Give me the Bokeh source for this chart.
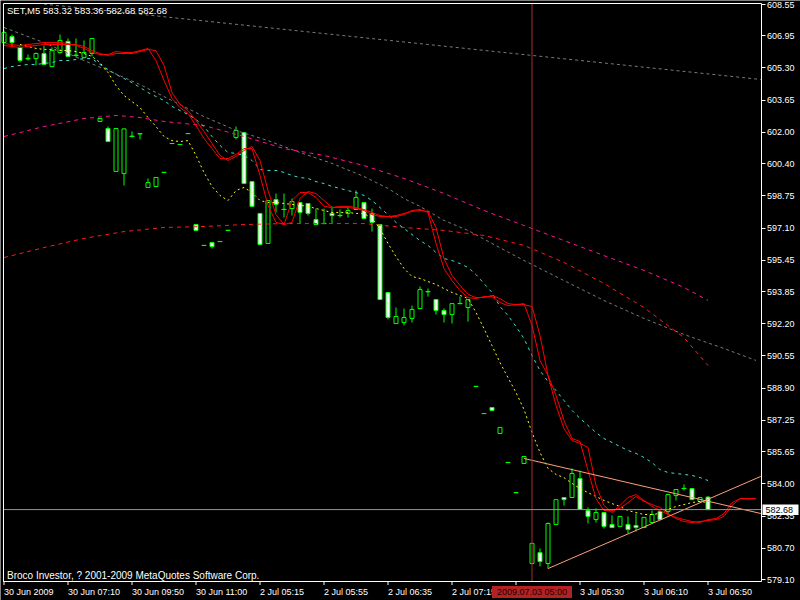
from bokeh.plotting import figure
from bokeh.models import (Range1d, FixedTicker, PrintfTickFormatter, Label, LinearAxis,
                          ColumnDataSource)
from bokeh.core.properties import value
from bokeh.embed import file_html
from bokeh.resources import INLINE

# SET index, 5-minute bars
symbol = "SET"
timeframe = "M5"

opens = [
    606.60, 606.91, 606.35, 605.77, 605.78, 606.04, 605.37, 606.09, 606.66, 605.94,
    605.84, 606.04, 602.56, 602.20, 600.00, 599.89, 601.79, 601.93, 599.18, 599.23,
    599.95, 601.43, 601.38, 601.94, 597.28, 596.21, 596.36, 596.41, 596.98, 601.74,
    601.99, 599.48, 597.85, 596.31, 598.56, 598.05, 598.10, 598.41, 598.36, 597.54,
    597.33, 597.85, 597.74, 597.85, 598.05, 598.41, 597.85, 597.28, 593.80, 592.21,
    592.26, 592.47, 592.98, 593.84, 593.44, 592.88, 592.67, 593.23, 593.03, 588.99,
    587.60, 587.91, 586.58, 585.09, 583.55, 585.04, 579.92, 580.48, 579.92, 581.92,
    583.30, 583.30, 584.27, 582.63, 582.17, 582.53, 581.92, 581.82, 581.92, 581.87,
    581.76, 582.02, 582.58, 582.58, 583.40, 583.76, 583.76, 583.10, 583.32]
highs = [
    607.22, 607.01, 606.40, 605.99, 606.09, 606.45, 606.35, 607.01, 606.81, 606.81,
    606.71, 606.81, 602.71, 602.30, 602.20, 602.20, 602.05, 601.94, 599.64, 599.69,
    599.95, 601.43, 601.38, 601.94, 597.28, 596.21, 596.36, 596.41, 596.98, 602.30,
    601.99, 599.48, 597.85, 598.51, 598.87, 598.87, 598.62, 598.41, 598.36, 598.10,
    598.10, 598.21, 598.05, 598.15, 599.02, 598.41, 598.10, 597.28, 593.80, 593.03,
    592.98, 593.13, 594.11, 594.00, 593.44, 592.98, 593.23, 593.59, 593.44, 588.99,
    587.60, 587.91, 586.89, 585.09, 583.55, 585.40, 580.95, 580.69, 582.02, 583.19,
    583.30, 584.79, 584.68, 582.79, 582.74, 582.53, 582.38, 582.33, 582.33, 582.48,
    582.28, 582.63, 582.58, 583.45, 583.71, 583.97, 583.76, 583.30, 583.36]
lows = [
    606.50, 606.35, 605.58, 605.68, 605.43, 605.46, 605.37, 606.04, 605.89, 605.84,
    605.78, 605.89, 602.56, 601.53, 600.00, 599.28, 601.74, 601.64, 599.18, 599.23,
    599.95, 601.43, 601.38, 601.94, 596.98, 596.21, 596.05, 596.41, 596.98, 601.64,
    599.38, 598.21, 596.26, 596.31, 597.90, 597.64, 597.74, 597.33, 597.74, 597.28,
    597.33, 597.33, 597.64, 597.64, 598.05, 597.59, 596.92, 593.44, 592.42, 592.21,
    592.11, 592.26, 592.98, 593.59, 592.67, 592.26, 592.21, 593.23, 592.31, 588.99,
    587.60, 587.76, 586.58, 585.09, 583.55, 585.04, 579.92, 579.77, 579.66, 581.92,
    582.89, 583.30, 582.69, 581.97, 582.02, 581.71, 581.76, 581.82, 581.46, 581.56,
    581.76, 582.02, 582.17, 582.38, 583.15, 583.66, 583.19, 583.10, 582.68]
closes = [
    607.12, 606.60, 605.68, 605.80, 606.04, 605.48, 606.19, 606.71, 605.89, 605.96,
    606.09, 606.81, 602.71, 601.53, 602.20, 602.18, 601.81, 601.94, 599.43, 599.69,
    599.95, 601.43, 601.38, 601.94, 596.98, 596.21, 596.15, 596.41, 596.98, 602.10,
    599.38, 598.21, 596.26, 598.51, 598.31, 598.06, 598.46, 597.90, 597.85, 597.28,
    597.34, 597.74, 597.75, 598.00, 598.67, 597.59, 597.39, 593.44, 592.52, 592.57,
    592.52, 592.93, 593.95, 593.85, 592.88, 592.67, 593.23, 593.24, 593.44, 588.99,
    587.60, 587.76, 586.89, 585.09, 583.55, 585.40, 580.95, 580.02, 581.97, 583.19,
    583.19, 584.53, 582.69, 582.33, 582.53, 581.82, 581.76, 582.33, 581.66, 581.76,
    582.28, 582.43, 582.17, 583.45, 583.71, 583.77, 583.19, 583.30, 582.68]

# two shifted envelope lines (solid red), running past the last candle
env_a = [
    606.55, 606.50, 606.45, 606.50, 606.55, 606.60, 606.60, 606.60, 606.55, 606.45,
    606.30, 606.09, 605.99, 605.99, 606.14, 606.09, 606.09, 606.19, 606.30, 605.68,
    604.66, 603.74, 603.27, 602.97, 602.35, 601.69, 601.17, 600.66, 600.66, 600.87,
    601.17, 601.17, 599.79, 598.26, 597.39, 597.28, 598.51, 598.92, 598.92, 598.67,
    598.21, 598.15, 598.15, 598.15, 598.10, 598.00, 597.79, 597.69, 597.69, 597.69,
    597.79, 598.00, 598.05, 597.90, 596.31, 595.03, 594.41, 593.90, 593.54, 593.49,
    593.59, 593.59, 593.29, 593.13, 593.18, 593.18, 593.08, 591.60, 589.55, 588.01,
    586.83, 586.22, 586.07, 585.86, 583.91, 582.89, 582.53, 582.89, 583.30, 583.45,
    583.15, 582.84, 582.63, 582.43, 582.28, 582.17, 582.07, 582.02, 582.17, 582.22,
    582.48, 583.04, 583.24, 583.24, 583.24]
env_b = [
    606.45, 606.40, 606.35, 606.40, 606.45, 606.50, 606.50, 606.50, 606.50, 606.50,
    606.40, 606.19, 606.04, 605.94, 606.04, 606.04, 606.04, 606.14, 606.25, 606.19,
    605.43, 604.04, 603.43, 603.12, 602.61, 602.05, 601.43, 600.82, 600.56, 600.77,
    601.07, 601.28, 600.56, 599.02, 597.79, 597.28, 597.39, 598.62, 598.97, 598.87,
    598.51, 598.15, 598.21, 598.21, 598.15, 598.05, 597.90, 597.74, 597.69, 597.74,
    597.85, 597.95, 598.00, 597.95, 597.13, 595.54, 594.67, 594.16, 593.70, 593.54,
    593.54, 593.65, 593.49, 593.23, 593.18, 593.23, 592.11, 590.32, 589.55, 588.53,
    587.24, 586.32, 586.17, 584.68, 583.24, 582.63, 582.63, 582.74, 583.04, 583.35,
    583.10, 582.94, 582.79, 582.48, 582.22, 582.07, 582.02, 582.07, 582.12, 582.17,
    582.33, 582.89, 583.24, 583.24, 583.24]

# fast moving average (yellow, dotted), starts at bar 2
ma_fast_start = 2
ma_fast = [
    606.50, 606.40, 606.30, 606.25, 606.25, 606.19, 606.19, 606.14, 606.04, 605.89,
    605.58, 605.07, 604.40, 603.89, 603.58, 603.27, 602.76, 602.30, 601.79, 601.58,
    601.53, 601.58, 600.82, 599.95, 599.23, 598.77, 598.51, 599.02, 599.18, 598.92,
    598.51, 598.41, 598.41, 598.36, 598.31, 598.26, 598.21, 598.10, 598.00, 597.90,
    597.90, 597.90, 597.85, 597.85, 597.59, 597.08, 596.31, 595.64, 595.03, 594.62,
    594.52, 594.36, 594.21, 594.00, 593.80, 593.65, 593.49, 592.78, 591.95, 591.08,
    590.21, 589.44, 588.68, 587.81, 586.63, 585.61, 584.79, 584.48, 584.32, 584.02,
    583.76, 583.55, 583.35, 583.15, 582.99, 582.84, 582.63, 582.53, 582.43, 582.43,
    582.48, 582.69, 582.84, 582.94, 583.04, 583.10, 583.04]

# medium moving average (turquoise, dashed)
ma_mid = [
    605.27, 605.37, 605.43, 605.48, 605.48, 605.53, 605.58, 605.68, 605.68, 605.73,
    605.78, 605.78, 605.48, 605.22, 604.97, 604.76, 604.55, 604.30, 604.04, 603.84,
    603.63, 603.33, 603.12, 602.92, 602.66, 602.30, 601.79, 601.33, 600.97, 600.92,
    600.82, 600.56, 600.10, 600.05, 600.05, 599.95, 599.79, 599.69, 599.64, 599.48,
    599.38, 599.23, 599.13, 599.02, 598.92, 598.77, 598.51, 598.15, 597.79, 597.39,
    597.08, 596.77, 596.46, 596.21, 595.85, 595.54, 595.44, 595.28, 595.08, 594.72,
    594.26, 593.80, 593.08, 592.62, 592.06, 591.44, 590.57, 589.80, 589.24, 588.78,
    588.27, 587.76, 587.35, 586.99, 586.63, 586.32, 586.12, 585.91, 585.71, 585.56,
    585.35, 585.09, 584.73, 584.58, 584.53, 584.48, 584.43, 584.32, 584.17]

# slow line (gray, dashed)
slow_bars = [0, 5, 10, 13, 17, 21, 25, 29, 33, 37, 41, 45, 48, 50, 52, 55, 58, 61, 65, 70, 75, 80, 85, 90, 94]
slow_vals = [607.37, 606.60, 605.68, 605.17, 604.45, 603.63, 602.81, 602.10, 601.58, 600.97,
             600.41, 599.74, 599.13, 598.61, 598.21, 597.49, 596.98, 596.31, 595.44, 594.41,
             593.39, 592.47, 591.65, 590.93, 590.32]

# long-term line (gray, dashed)
long_bars = [5, 94.6]
long_vals = [608.57, 604.71]

# upper and lower curved channel borders
upper_bars = [0, 5, 10, 14, 17, 20, 25, 30, 35, 40, 45, 50, 55, 60, 65, 70, 75, 80, 85, 88]
upper_vals = [601.79, 602.30, 602.71, 602.87, 602.76, 602.56, 602.35, 601.79, 601.17, 600.82,
              600.30, 599.64, 598.87, 598.00, 597.23, 596.46, 595.69, 594.93, 594.06, 593.39]
lower_bars = [0, 5, 10, 15, 20, 25, 30, 35, 40, 45, 50, 55, 60, 65, 70, 75, 80, 85, 88]
lower_vals = [595.59, 596.10, 596.57, 596.92, 597.13, 597.18, 597.28, 597.33, 597.33, 597.33,
              597.13, 596.98, 596.72, 596.21, 595.34, 594.26, 593.03, 591.49, 590.06]

# triangle trend lines
trend_up_bars = [68, 94.6]
trend_up_vals = [579.66, 584.38]
trend_dn_bars = [65, 94.6]
trend_dn_vals = [585.30, 582.48]

# time axis: a tick every 8 bars; the label under the cursor readout is left out
time_tick_bars = [0, 8, 16, 24, 32, 40, 48, 56, 64, 72, 80, 88]
time_label_bars = [0, 8, 16, 24, 32, 40, 48, 56, 72, 80, 88]
time_labels = ["30 Jun 2009", "30 Jun 07:10", "30 Jun 09:50", "30 Jun 11:00",
               "2 Jul 05:15", "2 Jul 05:55", "2 Jul 06:35", "2 Jul 07:15",
               "3 Jul 05:30", "3 Jul 06:10", "3 Jul 06:50"]
price_ticks = [608.55, 606.95, 605.30, 603.65, 602.00, 600.40, 598.75, 597.10, 595.45,
               593.85, 592.20, 590.55, 588.90, 587.25, 585.65, 584.00, 582.35, 580.70, 579.10]

cursor_bar = 66
cursor_time = "2009.07.03 05:00"

GREEN = "#00ff00"
FONT = "Liberation Sans"

# canvas geometry: 8 px per bar, first bar centred on pixel column 3;
# price scale 0.051217 per pixel with 608.755 at the top edge
BAR_PX = 8.0
TOP_PRICE = 608.755
PRICE_PER_PX = 0.051217


def at_px_x(px):
    return (px - 3.5) / BAR_PX


def at_px_y(py):
    return TOP_PRICE - PRICE_PER_PX * py


W, H = 800, 600
p = figure(width=W, height=H,
           x_range=Range1d(at_px_x(0), at_px_x(W)), y_range=Range1d(at_px_y(H), at_px_y(0)),
           x_axis_location=None, y_axis_location=None,
           toolbar_location=None, output_backend="svg",
           background_fill_color="black", border_fill_color="black",
           min_border_left=0, min_border_right=0, min_border_top=0, min_border_bottom=0)
p.outline_line_color = None
p.xgrid.visible = False
p.ygrid.visible = False

AX_LEFT, AX_RIGHT, AX_TOP, AX_BOTTOM = 2.5, 760.5, 2.5, 580.5
x_bounds = (at_px_x(AX_LEFT), at_px_x(AX_RIGHT))
y_bounds = (at_px_y(AX_BOTTOM), at_px_y(AX_TOP))


def style_axis(ax):
    ax.axis_line_color = "white"
    ax.major_tick_line_color = "white"
    ax.major_tick_out = 4
    ax.major_tick_in = 0
    ax.minor_tick_line_color = None
    ax.major_label_text_color = "white"
    ax.major_label_text_font = FONT
    ax.major_label_text_font_size = "9px"
    ax.major_label_standoff = 2


price_axis = LinearAxis(fixed_location=at_px_x(AX_RIGHT), bounds=y_bounds,
                        ticker=FixedTicker(ticks=price_ticks),
                        formatter=PrintfTickFormatter(format="%.2f"))
style_axis(price_axis)
p.add_layout(price_axis, "right")

# plain frame edges (bottom, left, top) without tick labels
for loc, side, bnds in ((at_px_y(AX_BOTTOM), "below", x_bounds),
                        (at_px_x(AX_LEFT), "left", y_bounds),
                        (at_px_y(AX_TOP), "above", x_bounds)):
    edge = LinearAxis(fixed_location=loc, bounds=bnds, ticker=FixedTicker(ticks=[]))
    style_axis(edge)
    p.add_layout(edge, side)

# time tick marks and left-aligned time labels under the bottom edge
p.segment(x0=time_tick_bars, y0=[at_px_y(AX_BOTTOM)] * len(time_tick_bars),
          x1=time_tick_bars, y1=[at_px_y(AX_BOTTOM + 4)] * len(time_tick_bars),
          line_color="white", line_width=1)
p.text(x=time_label_bars, y=[at_px_y(591.5)] * len(time_label_bars), text=time_labels,
       text_align="left", text_baseline="middle", text_color="white",
       text_font=value(FONT), text_font_size="9px")

# candles
n = len(closes)
idx = list(range(n))
src = ColumnDataSource(dict(
    x=idx, o=opens, h=highs, l=lows, c=closes,
    top=[max(a, b) for a, b in zip(opens, closes)],
    bottom=[min(a, b) for a, b in zip(opens, closes)],
    fill=["black" if c >= o else "white" for o, c in zip(opens, closes)],
))
p.segment(x0="x", y0="h", x1="x", y1="l", source=src, line_color=GREEN, line_width=1)
p.vbar(x="x", width=0.5, top="top", bottom="bottom", source=src,
       fill_color="fill", line_color=GREEN, line_width=1)
flat = [i for i in idx if abs(opens[i] - closes[i]) < 0.03]
p.segment(x0=[i - 0.3 for i in flat], y0=[opens[i] for i in flat],
          x1=[i + 0.3 for i in flat], y1=[opens[i] for i in flat],
          line_color=GREEN, line_width=1)

# indicator lines
p.line(long_bars, long_vals, line_color="#7a7a7a", line_width=1, line_dash="3 3")
p.line(slow_bars, slow_vals, line_color="#7a7a7a", line_width=1, line_dash="3 3")
p.line(upper_bars, upper_vals, line_color="#ff1493", line_width=1, line_dash="4 4")
p.line(lower_bars, lower_vals, line_color="#ff1a1a", line_width=1, line_dash="4 4")
p.line(list(range(len(ma_mid))), ma_mid, line_color="#40e0d0", line_width=1, line_dash="3 4")
p.line(list(range(ma_fast_start, ma_fast_start + len(ma_fast))), ma_fast,
       line_color="#ffff00", line_width=1, line_dash="2 3")
p.line(list(range(len(env_a))), env_a, line_color="#ff0000", line_width=1)
p.line(list(range(len(env_b))), env_b, line_color="#ff0000", line_width=1)
p.line(trend_up_bars, trend_up_vals, line_color="#ffa07a", line_width=1)
p.line(trend_dn_bars, trend_dn_vals, line_color="#ffa07a", line_width=1)

# cursor cross-hair
p.segment(x0=[cursor_bar], y0=[at_px_y(AX_TOP)], x1=[cursor_bar], y1=[at_px_y(AX_BOTTOM)],
          line_color="#a03030", line_width=1)
p.segment(x0=[x_bounds[0]], y0=[closes[-1]], x1=[x_bounds[1]], y1=[closes[-1]],
          line_color="#8a95a5", line_width=1)

# cursor readouts on the axes
p.quad(left=[cursor_bar - 5], right=[cursor_bar + 5], top=[at_px_y(585.5)], bottom=[at_px_y(597.5)],
       fill_color="#b22222", line_color=None)
p.text(x=[cursor_bar], y=[at_px_y(591.5)], text=[cursor_time], text_align="center",
       text_baseline="middle", text_color="#1a0000", text_font=value(FONT), text_font_size="9px")
p.quad(left=[at_px_x(762)], right=[at_px_x(798)], top=[closes[-1] + 5 * PRICE_PER_PX],
       bottom=[closes[-1] - 5.5 * PRICE_PER_PX], fill_color="white", line_color=None)
p.text(x=[at_px_x(765)], y=[closes[-1]], text=[f"{closes[-1]:.2f}"], text_align="left",
       text_baseline="middle", text_color="black", text_font=value(FONT), text_font_size="9px")

header = f"{symbol},{timeframe}  {opens[-1]:.2f} {highs[-1]:.2f} {lows[-1]:.2f} {closes[-1]:.2f}"
p.add_layout(Label(x=at_px_x(6.5), y=at_px_y(10), text=header, text_color="white", text_font=FONT,
                   text_font_size="9.5px", text_baseline="middle", text_align="left"))
p.add_layout(Label(x=at_px_x(6.5), y=at_px_y(575), text="Broco Investor, ? 2001-2009 MetaQuotes Software Corp.",
                   text_color="white", text_font=FONT, text_font_size="10px",
                   text_baseline="middle", text_align="left"))

open("out.html", "w").write(file_html(p, INLINE))
